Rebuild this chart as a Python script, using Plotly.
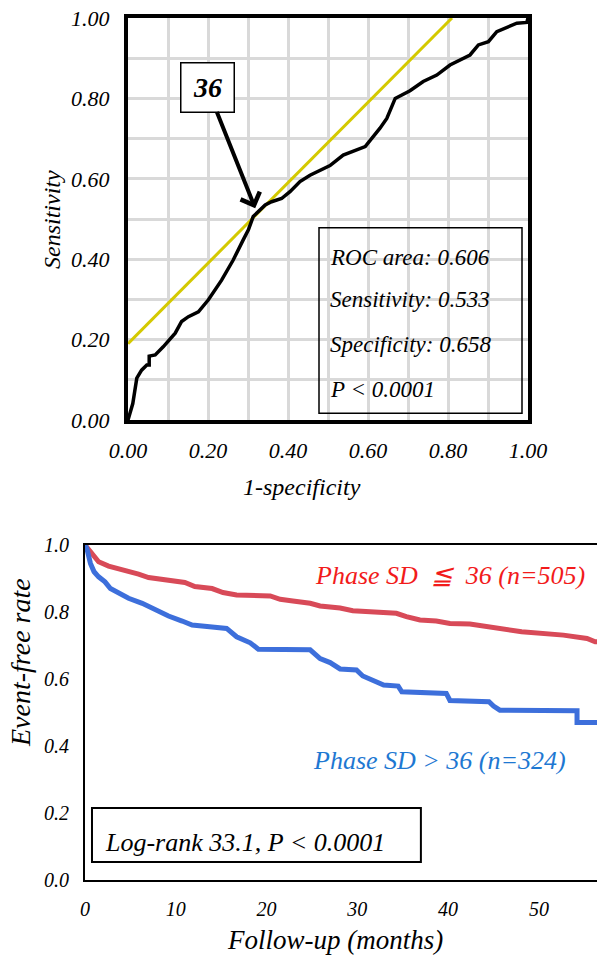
import plotly.graph_objects as go

# ---------------- data ----------------
roc_fpr = [0, 0.012, 0.022, 0.034, 0.047, 0.053, 0.053, 0.068, 0.088, 0.105,
           0.118, 0.134, 0.151, 0.176, 0.201, 0.234, 0.263, 0.288, 0.301, 0.313,
           0.343, 0.359, 0.384, 0.405, 0.43, 0.455, 0.505, 0.538, 0.593, 0.63,
           0.647, 0.668, 0.705, 0.738, 0.772, 0.805, 0.855, 0.876, 0.901, 0.922,
           0.955, 0.972, 0.997, 1.0]
roc_tpr = [0, 0.041, 0.104, 0.124, 0.137, 0.137, 0.159, 0.162, 0.182, 0.203,
           0.216, 0.245, 0.257, 0.269, 0.299, 0.348, 0.398, 0.448, 0.473, 0.506,
           0.535, 0.543, 0.551, 0.568, 0.593, 0.609, 0.633, 0.659, 0.680, 0.726,
           0.750, 0.800, 0.819, 0.842, 0.858, 0.883, 0.908, 0.933, 0.941, 0.966,
           0.980, 0.987, 0.989, 1.0]
ref_x = [0.0, 0.81]
ref_y = [0.19, 1.0]
cut_label = "36"
cut_point = (0.318, 0.527)
roc_stats = ["ROC area: 0.606", "Sensitivity: 0.533", "Specificity: 0.658", "P &lt; 0.0001"]
roc_ticks = [round(i * 0.1, 1) for i in range(11)]
roc_ticktext = ["0.00", "", "0.20", "", "0.40", "", "0.60", "", "0.80", "", "1.00"]

red_t = [0, 0.8, 1.5, 2.6, 3.7, 4.8, 5.9, 7.0, 8.5, 9.9,
         11.0, 12.1, 14.0, 15.2, 16.7, 20.4, 21.5, 22.9, 24.8, 25.9,
         28.1, 29.5, 32.1, 34.3, 35.4, 36.9, 38.7, 40.2, 42.4, 45.7,
         48.1, 52.7, 55.3, 56.2, 56.4]
red_s = [1.0, 0.970, 0.950, 0.937, 0.930, 0.923, 0.913, 0.903, 0.896, 0.891,
         0.888, 0.876, 0.870, 0.858, 0.851, 0.848, 0.838, 0.833, 0.826, 0.818,
         0.812, 0.804, 0.799, 0.796, 0.786, 0.776, 0.773, 0.766, 0.764, 0.751,
         0.741, 0.731, 0.721, 0.711, 0.711]
blue_t = [0, 0.2, 0.6, 1.0, 1.5, 2.2, 2.8, 3.7, 4.8, 6.3,
          7.7, 9.2, 10.7, 11.8, 14.0, 15.6, 16.7, 18.2, 19.1, 24.8,
          25.9, 27.0, 28.1, 29.9, 30.6, 32.1, 32.9, 34.5, 34.9, 39.8,
          40.2, 44.5, 45.0, 45.7, 54.2, 54.2, 56.4]
blue_s = [1.0, 0.99, 0.945, 0.920, 0.905, 0.890, 0.870, 0.856, 0.841, 0.826,
          0.806, 0.788, 0.773, 0.761, 0.755, 0.751, 0.726, 0.708, 0.689, 0.687,
          0.661, 0.649, 0.630, 0.627, 0.609, 0.592, 0.582, 0.579, 0.562, 0.557,
          0.536, 0.532, 0.519, 0.507, 0.505, 0.470, 0.470]
km_xticks = [0, 10, 20, 30, 40, 50]
km_yticks = [0.0, 0.2, 0.4, 0.6, 0.8, 1.0]
red_label = "Phase SD\u00a0\u00a0≦\u00a0\u00a036 (n=505)"
blue_label = "Phase SD > 36 (n=324)"
logrank_text = "Log-rank 33.1, P &lt; 0.0001"

FONT = "Liberation Serif"
W, H = 597, 955


def px(xp):
    return xp / W


def py(yp):
    return 1 - yp / H


def f(size, color="black"):
    return dict(family=FONT, size=size, color=color, style="italic")


fig = go.Figure()

# ROC
fig.add_trace(go.Scatter(x=ref_x, y=ref_y, mode="lines", xaxis="x", yaxis="y",
                         line=dict(color="#d4c900", width=3), showlegend=False, hoverinfo="skip"))
fig.add_trace(go.Scatter(x=roc_fpr, y=roc_tpr, mode="lines", xaxis="x", yaxis="y",
                         line=dict(color="black", width=3.5), showlegend=False))

# KM
fig.add_trace(go.Scatter(x=red_t, y=red_s, mode="lines", xaxis="x2", yaxis="y2",
                         line=dict(color="#d84a58", width=5), showlegend=False))
fig.add_trace(go.Scatter(x=blue_t, y=blue_s, mode="lines", xaxis="x2", yaxis="y2",
                         line=dict(color="#3d6fdb", width=5), showlegend=False))

fig.update_layout(
    width=W, height=H,
    margin=dict(l=0, r=0, t=0, b=0, autoexpand=False),
    paper_bgcolor="white", plot_bgcolor="white",
    font=dict(family=FONT),
    xaxis=dict(domain=[px(128), px(528)], range=[0, 1], anchor="y", automargin=False,
               tickvals=roc_ticks, ticktext=roc_ticktext, ticks="",
               showgrid=True, gridcolor="#d9d9d9", gridwidth=3, zeroline=False,
               showline=True, linecolor="black", linewidth=4, mirror=True,
               tickfont=f(22), ticklabelstandoff=8),
    yaxis=dict(domain=[py(420), py(18)], range=[0, 1], anchor="x", automargin=False,
               tickvals=roc_ticks, ticktext=roc_ticktext, ticks="",
               showgrid=True, gridcolor="#d9d9d9", gridwidth=3, zeroline=False,
               showline=True, linecolor="black", linewidth=4, mirror=True,
               tickfont=f(22), ticklabelstandoff=10),
    xaxis2=dict(domain=[px(85), 1.0], range=[0, 56.4], anchor="y2", automargin=False,
                tickvals=km_xticks, ticks="", showgrid=False, zeroline=False,
                showline=True, linecolor="black", linewidth=2, mirror=True,
                tickfont=f(20), ticklabelstandoff=10),
    yaxis2=dict(domain=[py(880), py(545)], range=[0, 1], anchor="x2", automargin=False,
                tickvals=km_yticks, tickformat=".1f", ticks="", showgrid=False,
                zeroline=False, showline=True, linecolor="black", linewidth=2,
                tickfont=f(20), ticklabelstandoff=10),
)

ann = []
# axis titles
ann.append(dict(text="Sensitivity", x=px(52), y=py(220), xref="paper", yref="paper",
                xanchor="center", yanchor="middle",
                textangle=-90, showarrow=False, font=f(24)))
ann.append(dict(text="1-specificity", x=px(302), y=py(487), xref="paper", yref="paper",
                xanchor="center", yanchor="middle", showarrow=False, font=f(24)))
ann.append(dict(text="Event-free rate", x=px(20), y=py(663), xref="paper", yref="paper",
                xanchor="center", yanchor="middle",
                textangle=-90, showarrow=False, font=f(28)))
ann.append(dict(text="Follow-up (months)", x=px(335), y=py(940), xref="paper", yref="paper",
                xanchor="center", yanchor="middle", showarrow=False, font=f(27)))

# cut point arrow with label box
ann.append(dict(text="<b><i>" + cut_label + "</i></b>", x=cut_point[0], y=cut_point[1], xref="x", yref="y",
                ax=0.1975, ay=0.828, axref="x", ayref="y", showarrow=True,
                arrowhead=4, arrowsize=1, arrowwidth=4, arrowcolor="black",
                bordercolor="black", borderwidth=1.5, bgcolor="white", width=50, height=46,
                font=dict(family=FONT, size=28, color="black")))

# stats text
stat_y = [0.405, 0.299, 0.187, 0.075]
for t, yy in zip(roc_stats, stat_y):
    ann.append(dict(text=t, x=0.5, y=yy, xref="x", yref="y", xanchor="left", yanchor="middle",
                    showarrow=False, font=f(23)))

# KM labels
ann.append(dict(text=red_label, x=40.2, y=0.910, xref="x2", yref="y2", showarrow=False,
                xanchor="center", yanchor="middle", font=f(26, "#f21b1b")))
ann.append(dict(text=blue_label, x=39.0, y=0.358, xref="x2", yref="y2", showarrow=False,
                xanchor="center", yanchor="middle", font=f(26, "#1e78d2")))
ann.append(dict(text=logrank_text, x=1.98, y=0.113, xref="x2", yref="y2", xanchor="left",
                yanchor="middle", showarrow=False, font=f(26)))

fig.update_layout(annotations=ann)

fig.update_layout(shapes=[
    dict(type="rect", xref="x", yref="y", x0=0.4775, x1=0.985, y0=0.017, y1=0.478,
         line=dict(color="black", width=1.5)),
    dict(type="rect", xref="x2", yref="y2", x0=0.77, x1=37.0, y0=0.054, y1=0.215,
         line=dict(color="black", width=2)),
])

fig.write_html("out.html", config={"displayModeBar": False},
               post_script="document.body.style.margin='0px';document.body.style.overflow='hidden';")
